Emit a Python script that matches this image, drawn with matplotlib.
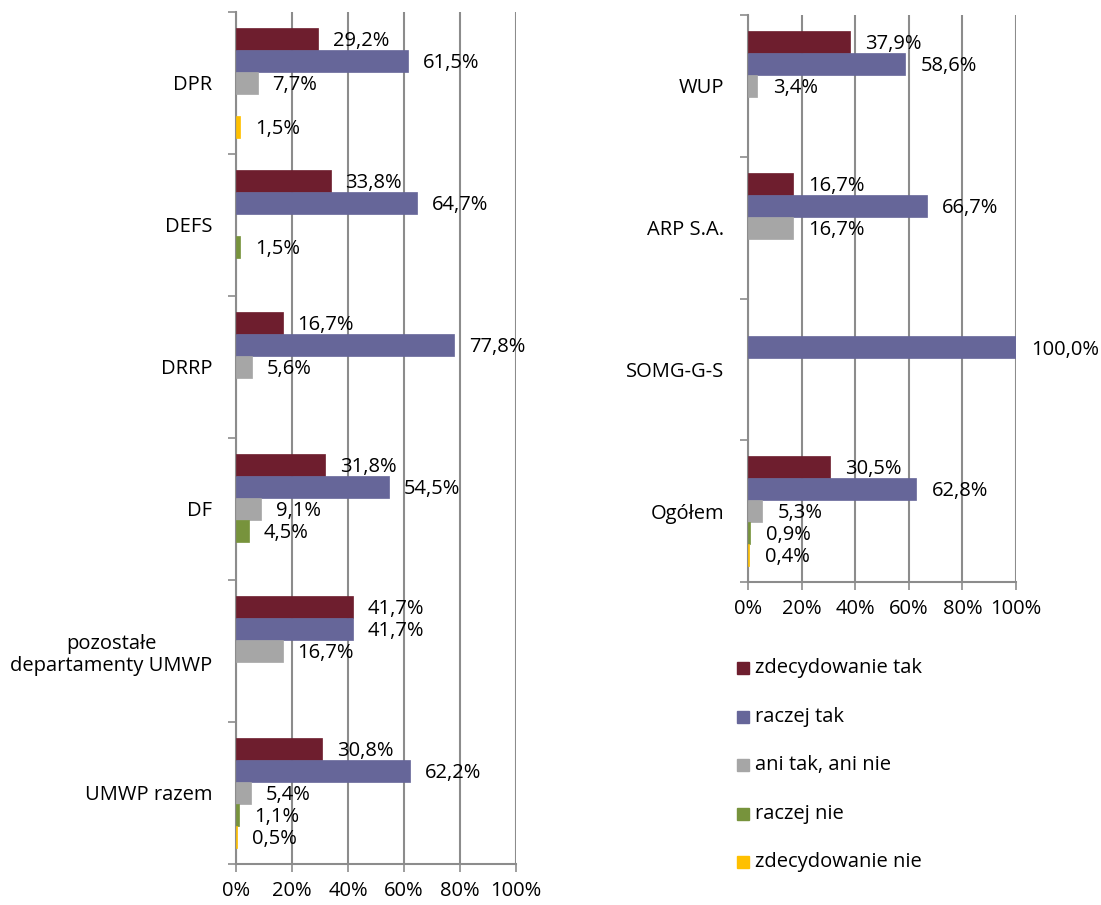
import matplotlib
matplotlib.use("Agg")
import matplotlib.pyplot as plt
from matplotlib.patches import Rectangle
import numpy as np

plt.rcParams['font.family'] = ['Open Sans', 'DejaVu Sans']

series = ["zdecydowanie tak", "raczej tak", "ani tak, ani nie", "raczej nie", "zdecydowanie nie"]
colors = ["#6E1E2E", "#666699", "#A6A6A6", "#77933C", "#FFC000"]

left_cats = ["DPR", "DEFS", "DRRP", "DF", "pozostałe\ndepartamenty UMWP", "UMWP razem"]
left_vals = [
    [29.2, 33.8, 16.7, 31.8, 41.7, 30.8],   # zdecydowanie tak
    [61.5, 64.7, 77.8, 54.5, 41.7, 62.2],   # raczej tak
    [7.7, 0.0, 5.6, 9.1, 16.7, 5.4],        # ani tak, ani nie
    [0.0, 1.5, 0.0, 4.5, 0.0, 1.1],         # raczej nie
    [1.5, 0.0, 0.0, 0.0, 0.0, 0.5],         # zdecydowanie nie
]

right_cats = ["WUP", "ARP S.A.", "SOMG-G-S", "Ogółem"]
right_vals = [
    [37.9, 16.7, 0.0, 30.5],
    [58.6, 66.7, 100.0, 62.8],
    [3.4, 16.7, 0.0, 5.3],
    [0.0, 0.0, 0.0, 0.9],
    [0.0, 0.0, 0.0, 0.4],
]

xticks = [0, 20, 40, 60, 80, 100]
xticklabels = ["0%", "20%", "40%", "60%", "80%", "100%"]

W, H = 1101, 905
fig = plt.figure(figsize=(W / 100, H / 100), dpi=100)

FS = 14.5
GRID = "#8C8C8C"


def px_axes(x0, y0, x1, y1):
    return fig.add_axes([x0 / W, 1 - y1 / H, (x1 - x0) / W, (y1 - y0) / H])


def draw(ax, cats, vals, label_pad):
    n = len(cats)
    h = 0.155
    y = np.arange(n)
    for j in range(len(series)):
        v = np.array(vals[j])
        pos = y - 2 * h + j * h
        m = v > 0
        ax.barh(pos[m], v[m], height=h, color=colors[j], edgecolor=colors[j],
                linewidth=0.5, zorder=3, label=series[j])
        for p, val in zip(pos[m], v[m]):
            ax.text(val + label_pad, p + 0.015, f"{val:.1f}%".replace(".", ","),
                    va="center", ha="left", fontsize=FS, color="black", zorder=4)
    ax.set_xlim(0, 100)
    ax.set_ylim(n - 0.5, -0.5)
    ax.set_xticks(xticks)
    ax.set_xticklabels(xticklabels, fontsize=FS)
    ax.set_yticks(y)
    ax.set_yticklabels(cats, fontsize=FS, multialignment="center")
    ax.set_yticks(np.arange(n + 1) - 0.5, minor=True)
    ax.tick_params(axis="y", which="major", length=0, pad=17)
    ax.tick_params(axis="y", which="minor", length=6, color=GRID, width=1.2, direction="out")
    ax.tick_params(axis="x", length=6, color=GRID, width=1.2, pad=6)
    ax.grid(axis="x", color=GRID, linewidth=1.5, zorder=0)
    for s in ["top", "right"]:
        ax.spines[s].set_visible(False)
    for s in ["left", "bottom"]:
        ax.spines[s].set_color(GRID)
        ax.spines[s].set_linewidth(1.5)
    ax.set_axisbelow(True)


axL = px_axes(236, 12, 516, 864)
draw(axL, left_cats, left_vals, 5.3)

axR = px_axes(748, 15, 1016, 582)
draw(axR, right_cats, right_vals, 5.8)

# legend
ys = [668, 717, 765, 814, 862]
for j, yy in enumerate(ys):
    fig.patches.append(Rectangle(((737) / W, 1 - (yy + 6) / H), 12 / W, 12 / H,
                                 transform=fig.transFigure, color=colors[j], figure=fig))
    fig.text(755 / W, 1 - yy / H, series[j], fontsize=FS, va="center", ha="left")

fig.savefig("out.png", dpi=100)
